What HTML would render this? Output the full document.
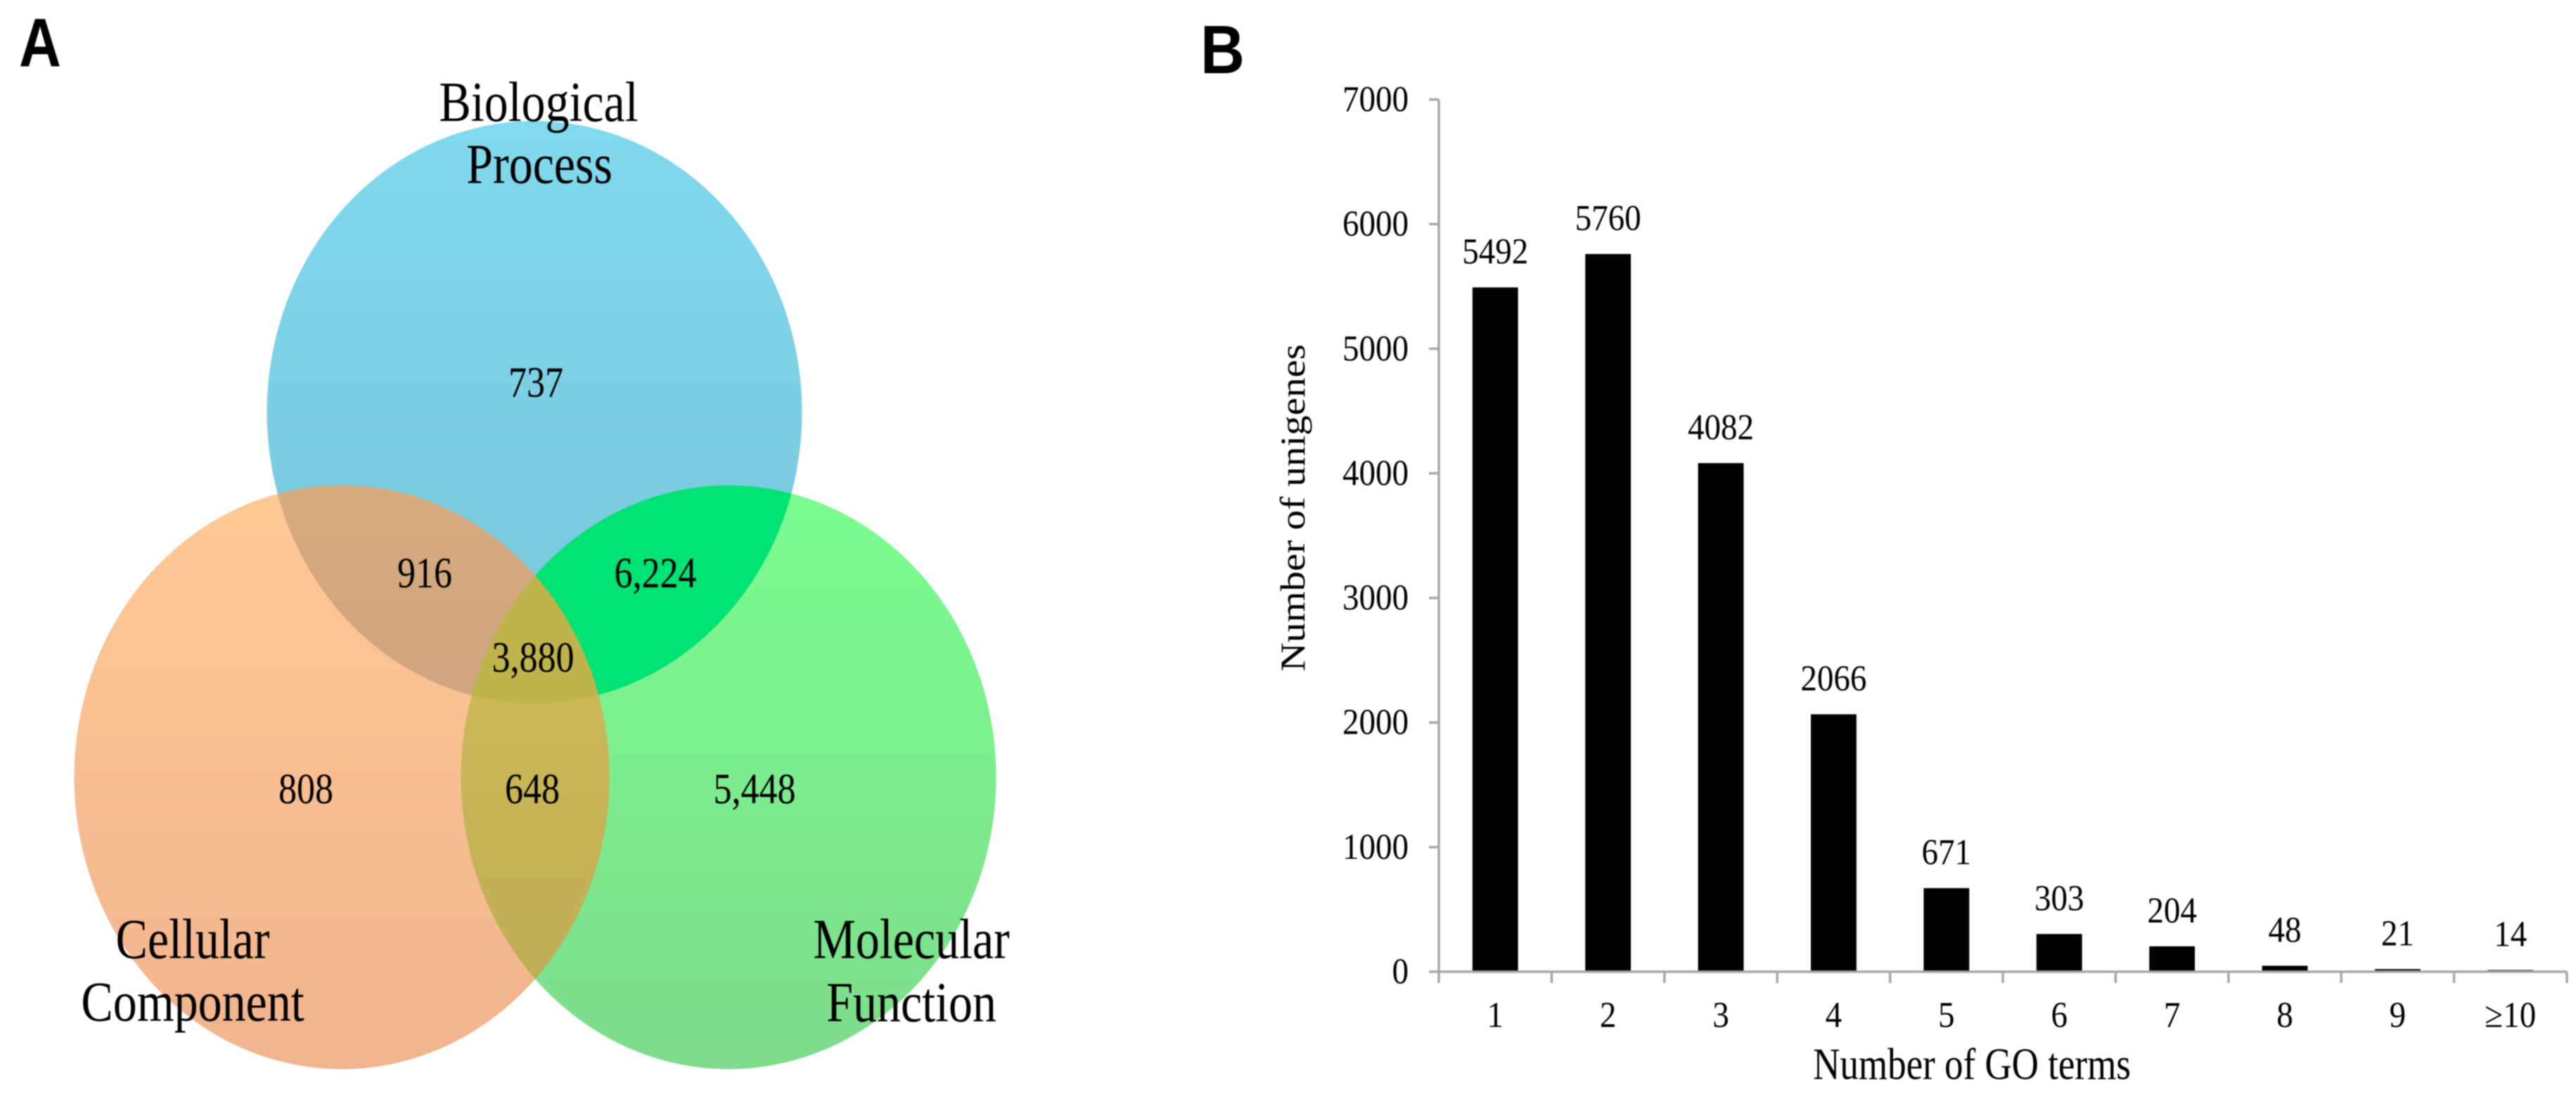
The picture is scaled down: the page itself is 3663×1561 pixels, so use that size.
<!DOCTYPE html>
<html lang="en">
<head>
<meta charset="utf-8">
<title>GO annotation Venn diagram and GO term distribution</title>
<style>
  html, body { margin: 0; padding: 0; background: #fff; }
  body { width: 3663px; height: 1561px; overflow: hidden; }
  svg { display: block; filter: blur(0.7px); }
  text { font-family: "Liberation Serif", serif; fill: #000; }
  .panel { font-family: "Liberation Sans", sans-serif; font-weight: 700; }
</style>
</head>
<body>
<svg id="figure" xmlns="http://www.w3.org/2000/svg" width="3663" height="1561" viewBox="0 0 3663 1561">
  <defs>
    <linearGradient id="gBlue" gradientUnits="userSpaceOnUse" x1="0" y1="172" x2="0" y2="1000">
      <stop offset="0" stop-color="#80d9ee"/><stop offset="1" stop-color="#79c4d8"/>
    </linearGradient>
    <linearGradient id="gOrange" gradientUnits="userSpaceOnUse" x1="0" y1="690" x2="0" y2="1520">
      <stop offset="0" stop-color="#ffc894"/><stop offset="1" stop-color="#f0b48e"/>
    </linearGradient>
    <linearGradient id="gGreen" gradientUnits="userSpaceOnUse" x1="0" y1="690" x2="0" y2="1520">
      <stop offset="0" stop-color="#7afd8f"/><stop offset="1" stop-color="#7edb8c"/>
    </linearGradient>
    <linearGradient id="gBO" gradientUnits="userSpaceOnUse" x1="0" y1="690" x2="0" y2="1000">
      <stop offset="0" stop-color="#d6ab7e"/><stop offset="1" stop-color="#cfa47f"/>
    </linearGradient>
    <linearGradient id="gOG" gradientUnits="userSpaceOnUse" x1="0" y1="800" x2="0" y2="1400">
      <stop offset="0" stop-color="#d2bd57"/><stop offset="1" stop-color="#bfad57"/>
    </linearGradient>
    <clipPath id="clipBlue"><ellipse cx="760" cy="586" rx="380.5" ry="414"/></clipPath>
    <clipPath id="clipOrange"><ellipse cx="486" cy="1105" rx="380.5" ry="415"/></clipPath>
    <clipPath id="clipGreen"><ellipse cx="1036" cy="1105" rx="380.5" ry="415"/></clipPath>
  </defs>

  <rect width="3663" height="1561" fill="#fff"/>

  <g id="venn">
    <ellipse cx="760" cy="586" rx="380.5" ry="414" fill="url(#gBlue)"/>
    <ellipse cx="486" cy="1105" rx="380.5" ry="415" fill="url(#gOrange)"/>
    <ellipse cx="1036" cy="1105" rx="380.5" ry="415" fill="url(#gGreen)"/>
    <g clip-path="url(#clipBlue)">
      <ellipse cx="486" cy="1105" rx="380.5" ry="415" fill="url(#gBO)"/>
      <ellipse cx="1036" cy="1105" rx="380.5" ry="415" fill="#00e274"/>
    </g>
    <g clip-path="url(#clipGreen)">
      <ellipse cx="486" cy="1105" rx="380.5" ry="415" fill="url(#gOG)"/>
      <g clip-path="url(#clipBlue)">
        <ellipse cx="486" cy="1105" rx="380.5" ry="415" fill="#bfb34c"/>
      </g>
    </g>

    <text transform="translate(766,172) scale(1,1.19)" font-size="68" text-anchor="middle">Biological</text>
    <text transform="translate(767,260) scale(1,1.19)" font-size="68" text-anchor="middle">Process</text>
    <text transform="translate(274,1362) scale(1,1.19)" font-size="68" text-anchor="middle">Cellular</text>
    <text transform="translate(274,1451) scale(1,1.19)" font-size="68" text-anchor="middle">Component</text>
    <text transform="translate(1296,1362) scale(1,1.19)" font-size="68" text-anchor="middle">Molecular</text>
    <text transform="translate(1296,1452) scale(1,1.19)" font-size="68" text-anchor="middle">Function</text>

    <text transform="translate(762,564) scale(1,1.19)" font-size="52" text-anchor="middle">737</text>
    <text transform="translate(604,835) scale(1,1.19)" font-size="52" text-anchor="middle">916</text>
    <text transform="translate(932,835) scale(1,1.19)" font-size="52" text-anchor="middle">6,224</text>
    <text transform="translate(758,955) scale(1,1.19)" font-size="52" text-anchor="middle">3,880</text>
    <text transform="translate(435,1142) scale(1,1.19)" font-size="52" text-anchor="middle">808</text>
    <text transform="translate(757,1142) scale(1,1.19)" font-size="52" text-anchor="middle">648</text>
    <text transform="translate(1073,1142) scale(1,1.19)" font-size="52" text-anchor="middle">5,448</text>
  </g>

  <text class="panel" transform="translate(27,94) scale(1,1.17)" font-size="83">A</text>
  <text class="panel" transform="translate(1707,104) scale(1,1.12)" font-size="87">B</text>

  <g id="chart"></g>
</svg>

<script>
var categories = ["1", "2", "3", "4", "5", "6", "7", "8", "9", "\u226510"];
var unigeneCounts = [5492, 5760, 4082, 2066, 671, 303, 204, 48, 21, 14];
var yTickValues = [0, 1000, 2000, 3000, 4000, 5000, 6000, 7000];

var plotLeft = 2046, plotRight = 3650, plotBottom = 1381.5, plotTop = 141.5;
var yMax = 7000;
var barFraction = 0.404;
var tickFont = 47;
var tickScaleY = 1.1;
var NS = "http://www.w3.org/2000/svg";
var chart = document.getElementById("chart");

function xBand() { return (plotRight - plotLeft) / categories.length; }
function xCenter(i) { return plotLeft + xBand() * (i + 0.5); }
function xEdge(i) { return plotLeft + xBand() * i; }
function yScale(v) { return plotBottom - (v / yMax) * (plotBottom - plotTop); }

function addLine(x1, y1, x2, y2) {
  var l = document.createElementNS(NS, "line");
  l.setAttribute("x1", x1);
  l.setAttribute("y1", y1);
  l.setAttribute("x2", x2);
  l.setAttribute("y2", y2);
  l.setAttribute("stroke", "#a6a6a6");
  l.setAttribute("stroke-width", "3.5");
  chart.appendChild(l);
  return l;
}

function addText(str, x, y, size, anchor, sy) {
  var t = document.createElementNS(NS, "text");
  t.setAttribute("transform", "translate(" + x + "," + y + ") scale(1," + sy + ")");
  t.setAttribute("font-size", size);
  t.setAttribute("text-anchor", anchor);
  t.textContent = str;
  chart.appendChild(t);
  return t;
}

yTickValues.forEach(function (v) {
  var tick = addLine(plotLeft - 14, yScale(v), plotLeft, yScale(v));
  
  
  var lab = addText(String(v), 2003, yScale(v) + 16.5, tickFont, "end", tickScaleY);
  
  
});

categories.forEach(function (c, i) {
  var h = plotBottom - yScale(unigeneCounts[i]);
  var w = xBand() * barFraction;
  var bar = document.createElementNS(NS, "rect");
  bar.setAttribute("x", xCenter(i) - w / 2);
  bar.setAttribute("y", yScale(unigeneCounts[i]));
  bar.setAttribute("width", w);
  bar.setAttribute("height", h);
  bar.setAttribute("fill", "#000");
  
  
  chart.appendChild(bar);

  var value = addText(String(unigeneCounts[i]), xCenter(i), yScale(unigeneCounts[i]) - 34, tickFont, "middle", tickScaleY);
  
  

  var cat = addText(c, xCenter(i), 1460, tickFont, "middle", tickScaleY);
  
  
});

for (var k = 0; k <= categories.length; k++) {
  var xt = addLine(xEdge(k), plotBottom, xEdge(k), plotBottom + 16);
  
  
}

var yAxis = addLine(plotLeft, plotTop, plotLeft, plotBottom);



var xAxis = addLine(plotLeft, plotBottom, plotRight, plotBottom);



var xTitle = addText("Number of GO terms", 2804, 1534, 53, "middle", 1.19);



var yTitle = document.createElementNS(NS, "text");
yTitle.setAttribute("transform", "translate(1855,722) scale(1,1.14) rotate(-90)");
yTitle.setAttribute("font-size", "50");
yTitle.setAttribute("text-anchor", "middle");
yTitle.textContent = "Number of unigenes";


chart.appendChild(yTitle);
</script>
</body>
</html>
